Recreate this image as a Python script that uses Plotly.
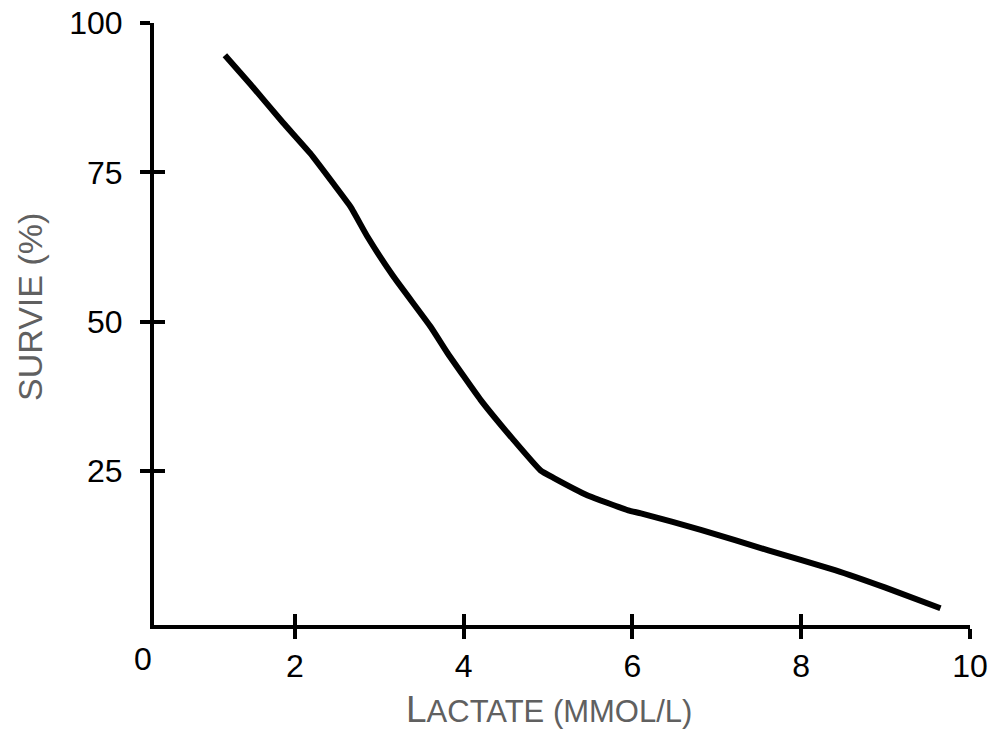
import plotly.graph_objects as go

lactate = [1.17, 1.47, 1.86, 2.18, 2.45, 2.66, 2.86, 3.17, 3.61, 3.81, 4.20, 4.59, 4.91, 5.07, 5.47, 5.95, 6.10, 6.82, 7.61, 8.40, 8.99, 9.65]
survie = [94.6, 89.8, 83.3, 78.2, 73.2, 69.2, 64.2, 57.5, 49.1, 44.7, 36.9, 30.2, 25.1, 23.8, 20.9, 18.4, 17.9, 15.1, 11.7, 8.4, 5.5, 2.0]

x_ticks = [2, 4, 6, 8, 10]
y_ticks = [25, 50, 75, 100]
x_range = [0.33, 10]
y_range = [-0.8, 100]

FONT = "Liberation Sans, Arial, Helvetica, sans-serif"
GREY = "#606060"

fig = go.Figure()
fig.add_trace(go.Scatter(
    x=lactate, y=survie, mode="lines",
    line=dict(color="black", width=6, shape="spline", smoothing=0.4),
    hoverinfo="skip", showlegend=False,
))
# invisible trace to activate overlay axes (inside ticks)
fig.add_trace(go.Scatter(x=[x_range[0]], y=[y_range[0]], xaxis="x2", yaxis="y2",
                         mode="markers", marker=dict(opacity=0), showlegend=False,
                         hoverinfo="skip"))

axis_common = dict(showgrid=False, zeroline=False, linecolor="black", linewidth=4,
                   tickcolor="black", tickwidth=4, showline=True, automargin=False)

fig.update_layout(
    width=992, height=733,
    margin=dict(l=154, r=22, t=23, b=108),
    paper_bgcolor="white", plot_bgcolor="white",
    font=dict(family=FONT, color="black"),
    xaxis=dict(range=x_range, tickvals=x_ticks, ticks="outside", ticklen=10,
               tickfont=dict(size=32, family=FONT, color="black"),
               ticklabelstandoff=0, **axis_common),
    yaxis=dict(range=y_range, tickvals=y_ticks, ticks="outside", ticklen=10,
               tickfont=dict(size=32, family=FONT, color="black"),
               ticklabelstandoff=11, **axis_common),
    xaxis2=dict(range=x_range, tickvals=x_ticks, ticks="inside", ticklen=11,
                showticklabels=False, overlaying="x", anchor="y2", side="bottom",
                **axis_common),
    yaxis2=dict(range=y_range, tickvals=y_ticks, ticks="inside", ticklen=11,
                showticklabels=False, overlaying="y", anchor="x2", side="left",
                **axis_common),
)

fig.add_annotation(text="0", xref="paper", yref="paper", x=0, y=0,
                   xanchor="right", yanchor="top", xshift=0, yshift=-14,
                   showarrow=False, font=dict(size=32, family=FONT, color="black"))

fig.add_annotation(text="L<span style='font-size:31px'>ACTATE (MMOL/L)</span>",
                   xref="paper", yref="paper", x=(549 - 154) / 816, y=0,
                   xanchor="center", yanchor="top", yshift=-62,
                   showarrow=False, font=dict(size=37, family=FONT, color=GREY))

fig.add_annotation(text="SURVIE (%)", textangle=-90,
                   xref="paper", yref="paper", x=0, y=(625 - 307) / 602,
                   xanchor="center", yanchor="middle", xshift=-124,
                   showarrow=False, font=dict(size=34, family=FONT, color=GREY))

fig.write_html("out.html")
